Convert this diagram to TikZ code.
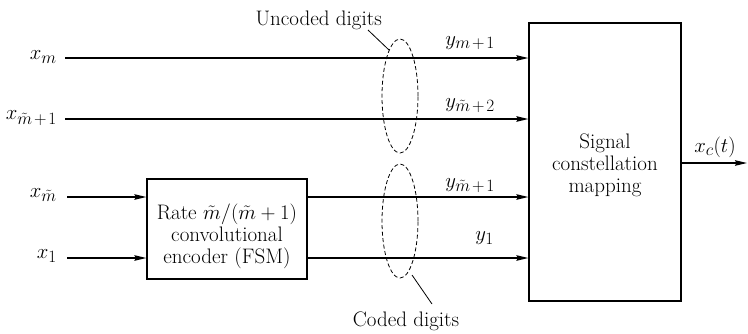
\documentclass[tikz,border=0pt]{standalone}
\usetikzlibrary{arrows.meta,shapes.geometric}
\DeclareMathSizes{21}{21}{16}{12}
\newcommand{\plsp}{\mkern2mu+\mkern2mu}
\begin{document}
\begin{tikzpicture}[x=1pt,y=-1pt,
  txt/.style={font=\fontsize{21}{22}\selectfont, inner sep=0pt, align=center},
  lbl/.style={font=\fontsize{21}{22}\selectfont, inner sep=0pt},
  arr/.style={line width=1.4pt, -{Stealth[length=12pt,width=5.5pt,inset=1.5pt]}},
  boxst/.style={draw, line width=1.2pt, minimum width=#1},
  grp/.style={draw, ellipse, dash pattern=on 4pt off 2.5pt, line width=0.8pt, minimum width=36pt, minimum height=114pt, inner sep=0pt},
  leader/.style={line width=0.8pt}]
\useasboundingbox (0,0) rectangle (748,333);

% boxes
\node[boxst=160pt, minimum height=100pt] (enc) at (227,229) {};
\node[txt] (enctxt) at (227,236) {Rate $\tilde{m}/(\tilde{m}+1)$\\convolutional\\encoder (FSM)};
\node[boxst=152pt, minimum height=278pt] (map) at (605,162) {};
\node[txt] (maptxt) at (605,165) {Signal\\constellation\\mapping};

% start coordinates
\coordinate (s1) at (65,58);
\coordinate (s2) at (65,119);
\coordinate (s3) at (67,197);
\coordinate (s4) at (67,258);
\coordinate (out) at (747,163);

% input labels
\node[lbl, anchor=east] (lxm) at (57,57) {$x_m$};
\node[lbl, anchor=east] (lxm1) at (57,118) {$x_{\tilde{m}\plsp1}$};
\node[lbl, anchor=east] (lxmt) at (57,195) {$x_{\tilde{m}}$};
\node[lbl, anchor=east] (lx1) at (57,256) {$x_1$};

% connectors
\draw[arr] (s1) -- (s1 -| map.west);
\draw[arr] (s2) -- (s2 -| map.west);
\draw[arr] (s3) -- (s3 -| enc.west);
\draw[arr] (s4) -- (s4 -| enc.west);
\draw[arr] (s3 -| enc.east) -- (s3 -| map.west);
\draw[arr] (s4 -| enc.east) -- (s4 -| map.west);
\draw[arr] (out -| map.east) -- (out);

% output labels
\node[lbl, anchor=base east] (ly1) at (495,45) {$y_{m\plsp1}$};
\node[lbl, anchor=base east] (ly2) at (495,107) {$y_{\tilde{m}\plsp2}$};
\node[lbl, anchor=base east] (ly3) at (495,187) {$y_{\tilde{m}\plsp1}$};
\node[lbl, anchor=base east] (ly4) at (494,240) {$y_1$};
\node[lbl, anchor=base] (lxc) at (715,152) {$x_c(t)$};

% groups
\node[grp] (ug) at (400,96) {};
\node[grp] (cg) at (400,221) {};
\node[txt, anchor=base east] (ut) at (382,25) {Uncoded digits};
\node[txt, anchor=base] (ct) at (406,326) {Coded digits};
\coordinate (ua) at (368,30);
\coordinate (ub) at (389,50);
\coordinate (ca) at (412,275);
\coordinate (cb) at (432,304);
\draw[leader] (ua) -- (ub);
\draw[leader] (ca) -- (cb);
\end{tikzpicture}
\end{document}
